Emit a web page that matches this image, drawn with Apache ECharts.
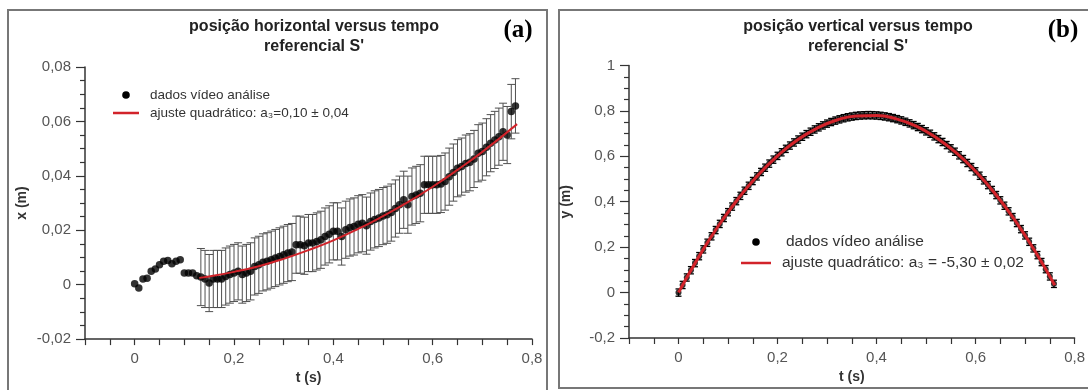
<!DOCTYPE html>
<html><head><meta charset="utf-8">
<script src="https://cdn.jsdelivr.net/npm/echarts@6/dist/echarts.min.js"></script>
<style>html,body{margin:0;padding:0;background:#fff;}#c{width:1088px;height:390px;}</style>
</head><body><div id="c"></div>
<script>
// ---------- video frame times (s), 120 frames per second ----------
const frameTimes = [0,0.0083,0.0167,0.025,0.0333,0.0417,0.05,0.0583,0.0667,0.075,
  0.0833,0.0917,0.1,0.1083,0.1167,0.125,0.1333,0.1417,0.15,0.1583,
  0.1667,0.175,0.1833,0.1917,0.2,0.2083,0.2167,0.225,0.2333,0.2417,
  0.25,0.2583,0.2667,0.275,0.2833,0.2917,0.3,0.3083,0.3167,0.325,
  0.3333,0.3417,0.35,0.3583,0.3667,0.375,0.3833,0.3917,0.4,0.4083,
  0.4167,0.425,0.4333,0.4417,0.45,0.4583,0.4667,0.475,0.4833,0.4917,
  0.5,0.5083,0.5167,0.525,0.5333,0.5417,0.55,0.5583,0.5667,0.575,
  0.5833,0.5917,0.6,0.6083,0.6167,0.625,0.6333,0.6417,0.65,0.6583,
  0.6667,0.675,0.6833,0.6917,0.7,0.7083,0.7167,0.725,0.7333,0.7417,
  0.75,0.7583,0.7667];

// ---------- panel (a): horizontal position x (m) ----------
const xPos = [0.0003,-0.0012,0.0021,0.0024,0.0049,0.0058,0.0073,0.0086,0.0089,0.0077,
  0.0086,0.0092,0.0043,0.0043,0.0043,0.0033,0.0028,0.0021,0.0006,0.0021,
  0.0021,0.0021,0.0030,0.0037,0.0043,0.0049,0.0037,0.0043,0.0049,0.0067,
  0.0073,0.0082,0.0086,0.0092,0.0098,0.0104,0.0110,0.0116,0.0120,0.0147,
  0.0147,0.0143,0.0153,0.0153,0.0159,0.0165,0.0177,0.0185,0.0196,0.0196,
  0.0177,0.0202,0.0210,0.0214,0.0222,0.0226,0.0217,0.0232,0.0240,0.0245,
  0.0252,0.0257,0.0265,0.0280,0.0294,0.0312,0.0294,0.0324,0.0330,0.0336,
  0.0367,0.0367,0.0367,0.0367,0.0370,0.0379,0.0397,0.0412,0.0428,0.0434,
  0.0445,0.0450,0.0462,0.0483,0.0489,0.0505,0.0520,0.0532,0.0544,0.0562,
  0.0550,0.0636,0.0657];
const xErr = [0,0,0,0,0,0,0,0,0,0,
  0,0,0,0,0,0,0.0105,0.0105,0.0105,0.0105,
  0.0105,0.0105,0.0105,0.0105,0.0105,0.0105,0.0105,0.0105,0.0105,0.0105,
  0.0105,0.0105,0.0105,0.0105,0.0105,0.0105,0.0105,0.0105,0.0105,0.0105,
  0.0105,0.0105,0.0105,0.0105,0.0105,0.0105,0.0105,0.0105,0.0105,0.0105,
  0.0105,0.0105,0.0105,0.0105,0.0105,0.0105,0.0105,0.0105,0.0105,0.0105,
  0.0105,0.0105,0.0105,0.0105,0.0105,0.0105,0.0105,0.0105,0.0105,0.0105,
  0.0105,0.0105,0.0105,0.0105,0.0105,0.0105,0.0105,0.0105,0.0105,0.0105,
  0.0105,0.0105,0.0105,0.0105,0.0105,0.0105,0.0105,0.0105,0.0105,0.0105,
  0.0105,0.0100,0.0100];
const fitTimeLeft = [0.13,0.15,0.20,0.25,0.30,0.35,0.40,0.45,0.50,0.55,0.60,0.65,0.70,0.77];
const fitXPos = [0.0025,0.0030,0.0047,0.0068,0.0095,0.0127,0.0163,0.0205,0.0252,0.0303,0.0360,0.0422,0.0488,0.0590];

// ---------- panel (b): vertical position y (m) ----------
const yPos = [0.0000,0.0336,0.0664,0.0984,0.1298,0.1604,0.1903,0.2194,0.2478,0.2754,
  0.3024,0.3285,0.3540,0.3787,0.4027,0.4259,0.4484,0.4702,0.4913,0.5116,
  0.5311,0.5499,0.5680,0.5854,0.6020,0.6179,0.6330,0.6474,0.6611,0.6740,
  0.6863,0.6977,0.7084,0.7184,0.7277,0.7362,0.7440,0.7511,0.7574,0.7629,
  0.7678,0.7719,0.7752,0.7779,0.7798,0.7809,0.7814,0.7810,0.7800,0.7782,
  0.7757,0.7724,0.7684,0.7637,0.7582,0.7520,0.7451,0.7374,0.7290,0.7199,
  0.7100,0.6994,0.6880,0.6759,0.6631,0.6495,0.6352,0.6202,0.6044,0.5879,
  0.5707,0.5527,0.5340,0.5145,0.4943,0.4734,0.4517,0.4294,0.4062,0.3824,
  0.3578,0.3324,0.3063,0.2795,0.2520,0.2237,0.1947,0.1649,0.1344,0.1032,
  0.0712,0.0385];
const yErrValue = 0.016;
const fitTimeRight = [0.00,0.04,0.08,0.12,0.16,0.20,0.24,0.28,0.32,0.36,0.40,0.44,0.48,0.52,0.56,0.60,0.64,0.68,0.72,0.76];
const fitYPos = [0.000,0.154,0.292,0.412,0.516,0.602,0.672,0.724,0.760,0.778,0.780,0.765,0.733,0.683,0.617,0.534,0.434,0.317,0.183,0.032];

// ---------- text ----------
const titleLeft = "posição horizontal versus tempo\nreferencial S'";
const titleRight = "posição vertical versus tempo\nreferencial S'";
const legendData = 'dados vídeo análise';
const legendFitLeft = 'ajuste quadrático: a\u2083=0,10 ± 0,04';
const legendFitRight = 'ajuste quadrático: a\u2083 = -5,30 ± 0,02';

const FONT = "'Liberation Sans', Arial, Helvetica, sans-serif";
const RED = '#d2232a';
const AXIS = '#333';
const LABEL = '#555';

function near(v, step) { return Math.abs(v / step - Math.round(v / step)) < 1e-6; }
function comma(v, dec) {
  if (Math.abs(v) < 1e-9) return '0';
  return String(+v.toFixed(dec)).replace('.', ',');
}
function zip(ts, vs) { return vs.map((v, i) => [ts[i], v]); }

function errorBar(color, halfCap, width) {
  return function (params, api) {
    const x = api.value(0), y = api.value(1), e = api.value(2);
    if (!e) return null;
    const top = api.coord([x, y + e]);
    const bot = api.coord([x, y - e]);
    const st = { stroke: color, lineWidth: width };
    return { type: 'group', children: [
      { type: 'line', shape: { x1: top[0], y1: top[1], x2: bot[0], y2: bot[1] }, style: st },
      { type: 'line', shape: { x1: top[0] - halfCap, y1: top[1], x2: top[0] + halfCap, y2: top[1] }, style: st },
      { type: 'line', shape: { x1: bot[0] - halfCap, y1: bot[1], x2: bot[0] + halfCap, y2: bot[1] }, style: st }
    ]};
  };
}

function xAxisCfg(gi) {
  return {
    gridIndex: gi, type: 'value', min: -0.1, max: 0.8, interval: 0.05,
    name: 't (s)', nameLocation: 'middle', nameGap: 30,
    nameTextStyle: { fontFamily: FONT, fontWeight: 'bold', fontSize: 14, color: AXIS },
    axisLine: { onZero: false, lineStyle: { color: AXIS, width: 1.5 } },
    axisTick: { length: 6, lineStyle: { color: AXIS, width: 1.2 } },
    axisLabel: { fontFamily: FONT, fontSize: 15, color: LABEL, margin: 12,
      formatter: v => near(v, 0.2) ? comma(v, 1) : '' },
    splitLine: { show: false }
  };
}
function yAxisCfg(gi, min, max, interval, dec, name) {
  return {
    gridIndex: gi, type: 'value', min: min, max: max, interval: interval,
    name: name, nameLocation: 'middle', nameGap: 56, nameRotate: 90,
    nameTextStyle: { fontFamily: FONT, fontWeight: 'bold', fontSize: 14, color: AXIS },
    axisLine: { onZero: false, lineStyle: { color: AXIS, width: 1.5 } },
    axisTick: { length: 9, lineStyle: { color: AXIS, width: 1.2 } },
    minorTick: { show: true, splitNumber: 4, length: 5, lineStyle: { color: AXIS, width: 1.2 } },
    axisLabel: { fontFamily: FONT, fontSize: 15, color: LABEL, margin: 14,
      formatter: v => comma(v, dec) },
    splitLine: { show: false }, minorSplitLine: { show: false }
  };
}

const chart = echarts.init(document.getElementById('c'));
chart.setOption({
  animation: false,
  backgroundColor: '#fff',
  title: [
    { text: titleLeft, left: 314, top: 17, textAlign: 'center', padding: 0,
      textStyle: { fontFamily: FONT, fontWeight: 'bold', fontSize: 16, lineHeight: 20, color: '#222' } },
    { text: titleRight, left: 858, top: 17, textAlign: 'center', padding: 0,
      textStyle: { fontFamily: FONT, fontWeight: 'bold', fontSize: 16, lineHeight: 20, color: '#222' } }
  ],
  grid: [
    { left: 85, top: 67, width: 447, height: 273 },
    { left: 629, top: 65.5, width: 456, height: 272.5 }
  ],
  xAxis: [xAxisCfg(0), xAxisCfg(1)],
  yAxis: [
    yAxisCfg(0, -0.02, 0.08, 0.02, 2, 'x (m)'),
    yAxisCfg(1, -0.2, 1, 0.2, 1, 'y (m)')
  ],
  graphic: [
    { type: 'rect', shape: { x: 8, y: 10, width: 539, height: 400 }, style: { fill: null, stroke: '#777', lineWidth: 2 }, silent: true },
    { type: 'rect', shape: { x: 559, y: 10, width: 545, height: 378 }, style: { fill: null, stroke: '#777', lineWidth: 2 }, silent: true },
    { type: 'text', x: 518, y: 31, style: { text: '(a)', font: "bold 25px 'Liberation Serif', 'Times New Roman', serif", fill: '#000', align: 'center', verticalAlign: 'middle' } },
    { type: 'text', x: 1063, y: 31, style: { text: '(b)', font: "bold 25px 'Liberation Serif', 'Times New Roman', serif", fill: '#000', align: 'center', verticalAlign: 'middle' } },
    // legend (a)
    { type: 'circle', shape: { cx: 126, cy: 95, r: 3.8 }, style: { fill: '#000' } },
    { type: 'text', x: 150, y: 95, style: { text: legendData, font: '13.5px ' + FONT, fill: '#333', verticalAlign: 'middle' } },
    { type: 'line', shape: { x1: 113, y1: 113, x2: 139, y2: 113 }, style: { stroke: RED, lineWidth: 2.5 } },
    { type: 'text', x: 150, y: 113, style: { text: legendFitLeft, font: '13.5px ' + FONT, fill: '#333', verticalAlign: 'middle' } },
    // legend (b)
    { type: 'circle', shape: { cx: 756, cy: 242, r: 3.8 }, style: { fill: '#000' } },
    { type: 'text', x: 786, y: 242, style: { text: legendData, font: '15.5px ' + FONT, fill: '#333', verticalAlign: 'middle' } },
    { type: 'line', shape: { x1: 741, y1: 263, x2: 771, y2: 263 }, style: { stroke: RED, lineWidth: 2.5 } },
    { type: 'text', x: 782, y: 263, style: { text: legendFitRight, font: '15.5px ' + FONT, fill: '#333', verticalAlign: 'middle' } }
  ],
  series: [
    { type: 'custom', xAxisIndex: 0, yAxisIndex: 0, renderItem: errorBar('#505050', 4, 1),
      data: xPos.map((v, i) => [frameTimes[i], v, xErr[i]]), encode: { x: 0, y: 1 }, z: 2 },
    { type: 'scatter', name: legendData, xAxisIndex: 0, yAxisIndex: 0, symbolSize: 7.5,
      itemStyle: { color: '#000' }, data: zip(frameTimes, xPos), z: 3 },
    { type: 'line', name: legendFitLeft, xAxisIndex: 0, yAxisIndex: 0, smooth: true, showSymbol: false,
      lineStyle: { color: RED, width: 2 }, data: zip(fitTimeLeft, fitXPos), z: 4 },

    { type: 'custom', xAxisIndex: 1, yAxisIndex: 1, renderItem: errorBar('#000', 3, 1.3),
      data: yPos.map((v, i) => [frameTimes[i], v, yErrValue]), encode: { x: 0, y: 1 }, z: 2 },
    { type: 'scatter', name: legendData, xAxisIndex: 1, yAxisIndex: 1, symbolSize: 6,
      itemStyle: { color: '#000' }, data: zip(frameTimes, yPos), z: 3 },
    { type: 'line', name: legendFitRight, xAxisIndex: 1, yAxisIndex: 1, smooth: true, showSymbol: false,
      lineStyle: { color: RED, width: 3 }, data: zip(fitTimeRight, fitYPos), z: 4 }
  ]
});
</script></body></html>
